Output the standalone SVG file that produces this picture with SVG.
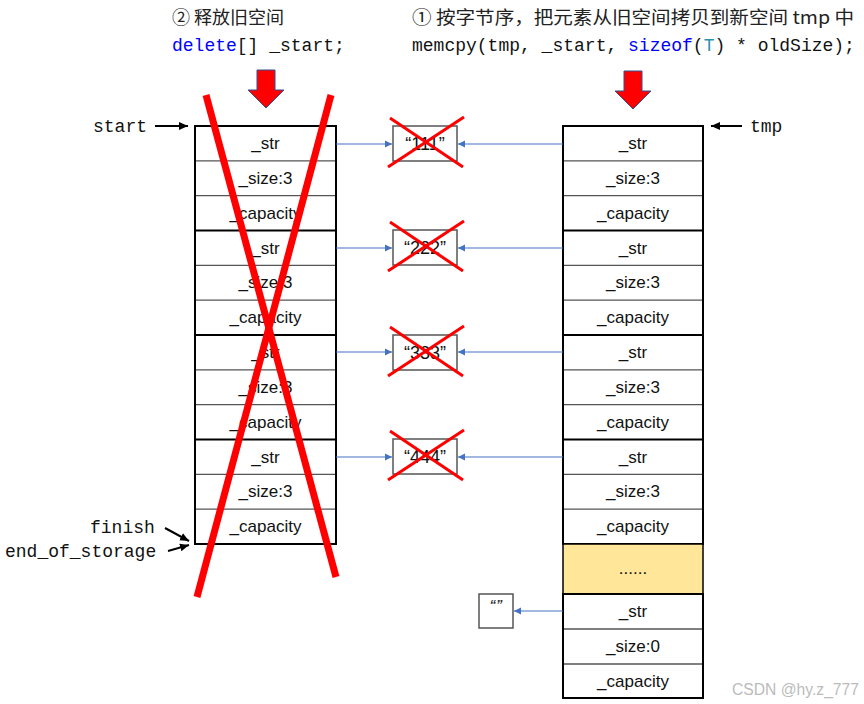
<svg xmlns="http://www.w3.org/2000/svg" width="864" height="704" viewBox="0 0 864 704">
<style>
.cell{fill:#fff;stroke:#555;stroke-width:1.3}
.frame{fill:none;stroke:#000;stroke-width:2}
.sep{stroke:#000;stroke-width:2}
.ct{font-family:"Liberation Sans",Arial,sans-serif;font-size:17px;fill:#111;text-anchor:middle}
.code{font-family:"Liberation Mono","DejaVu Sans Mono",monospace;font-size:18px;fill:#111}
.cn{font-family:"Noto Sans CJK SC","Noto Sans",sans-serif;font-size:18px;fill:#222}
.sbox{fill:#fff;stroke:#555;stroke-width:1.5}
.st{font-family:"Liberation Sans",Arial,sans-serif;font-size:18px;fill:#111;text-anchor:middle}
.blue{stroke:#4472C4;stroke-width:1.2;fill:none;marker-end:url(#ba)}
.ptr{stroke:#000;stroke-width:2;fill:none;marker-end:url(#ka)}
.rx{stroke:#FF0000;stroke-width:3}
.bigx{stroke:#FF0000;stroke-width:7;stroke-linecap:butt}
.blk{fill:#FF0000;stroke:#2F528F;stroke-width:1}
</style>
<defs>
<marker id="ba" markerWidth="8" markerHeight="8" refX="7" refY="4" orient="auto" markerUnits="userSpaceOnUse">
<path d="M0,0.5 L7,4 L0,7.5 Z" fill="#4472C4"/>
</marker>
<marker id="ka" markerWidth="10" markerHeight="10" refX="9" refY="5" orient="auto" markerUnits="userSpaceOnUse">
<path d="M0,1 L9,5 L0,9 Z" fill="#000"/>
</marker>
</defs>
<rect width="864" height="704" fill="#fff"/>

<g id="caption-left">
<text class="cn" x="172" y="24">② 释放旧空间</text>
<text class="code" x="172" y="51"><tspan fill="#0000FF">delete</tspan>[] _start;</text>
</g>
<g id="caption-right">
<text class="cn" x="412" y="24" textLength="442" lengthAdjust="spacingAndGlyphs">① 按字节序，把元素从旧空间拷贝到新空间 tmp 中</text>
<text class="code" x="412" y="51">memcpy(tmp, _start, <tspan fill="#0000FF">sizeof</tspan>(<tspan fill="#2B91AF">T</tspan>) * oldSize);</text>
</g>

<g id="block-arrows">
<polygon class="blk" points="257,70 275,70 275,90 284,90 266,108 248,90 257,90"/>
<polygon class="blk" points="624,71 642,71 642,91 651,91 633,109 615,91 624,91"/>
</g>

<g id="old-space">
<rect class="cell" x="195" y="126" width="141" height="418"/>
<g stroke="#555" stroke-width="1.3">
<line x1="195" y1="160.8" x2="336" y2="160.8"/><line x1="195" y1="195.7" x2="336" y2="195.7"/>
<line x1="195" y1="265.3" x2="336" y2="265.3"/><line x1="195" y1="300.2" x2="336" y2="300.2"/>
<line x1="195" y1="369.8" x2="336" y2="369.8"/><line x1="195" y1="404.7" x2="336" y2="404.7"/>
<line x1="195" y1="474.3" x2="336" y2="474.3"/><line x1="195" y1="509.2" x2="336" y2="509.2"/>
</g>
<line class="sep" x1="195" y1="230.5" x2="336" y2="230.5"/>
<line class="sep" x1="195" y1="335" x2="336" y2="335"/>
<line class="sep" x1="195" y1="439.5" x2="336" y2="439.5"/>
<rect class="frame" x="195" y="126" width="141" height="418"/>
<text class="ct" x="265.5" y="149">_str</text>
<text class="ct" x="265.5" y="184">_size:3</text>
<text class="ct" x="265.5" y="219">_capacity</text>
<text class="ct" x="265.5" y="254">_str</text>
<text class="ct" x="265.5" y="288">_size:3</text>
<text class="ct" x="265.5" y="323">_capacity</text>
<text class="ct" x="265.5" y="358">_str</text>
<text class="ct" x="265.5" y="393">_size:3</text>
<text class="ct" x="265.5" y="428">_capacity</text>
<text class="ct" x="265.5" y="463">_str</text>
<text class="ct" x="265.5" y="497">_size:3</text>
<text class="ct" x="265.5" y="532">_capacity</text>
</g>

<g id="new-space">
<rect class="cell" x="563" y="126" width="140" height="418"/>
<g stroke="#555" stroke-width="1.3">
<line x1="563" y1="160.8" x2="703" y2="160.8"/><line x1="563" y1="195.7" x2="703" y2="195.7"/>
<line x1="563" y1="265.3" x2="703" y2="265.3"/><line x1="563" y1="300.2" x2="703" y2="300.2"/>
<line x1="563" y1="369.8" x2="703" y2="369.8"/><line x1="563" y1="404.7" x2="703" y2="404.7"/>
<line x1="563" y1="474.3" x2="703" y2="474.3"/><line x1="563" y1="509.2" x2="703" y2="509.2"/>
</g>
<line class="sep" x1="563" y1="230.5" x2="703" y2="230.5"/>
<line class="sep" x1="563" y1="335" x2="703" y2="335"/>
<line class="sep" x1="563" y1="439.5" x2="703" y2="439.5"/>
<rect class="frame" x="563" y="126" width="140" height="418"/>
<text class="ct" x="633" y="149">_str</text>
<text class="ct" x="633" y="184">_size:3</text>
<text class="ct" x="633" y="219">_capacity</text>
<text class="ct" x="633" y="254">_str</text>
<text class="ct" x="633" y="288">_size:3</text>
<text class="ct" x="633" y="323">_capacity</text>
<text class="ct" x="633" y="358">_str</text>
<text class="ct" x="633" y="393">_size:3</text>
<text class="ct" x="633" y="428">_capacity</text>
<text class="ct" x="633" y="463">_str</text>
<text class="ct" x="633" y="497">_size:3</text>
<text class="ct" x="633" y="532">_capacity</text>
</g>

<g id="ellipsis-block">
<rect x="563" y="544" width="140" height="50" fill="#FFE699" stroke="#000" stroke-width="1.5"/>
<text class="ct" x="633" y="574">......</text>
</g>

<g id="new-element">
<rect class="cell" x="563" y="594" width="140" height="104"/>
<line x1="563" y1="629" x2="703" y2="629" stroke="#555" stroke-width="1.3"/>
<line x1="563" y1="664" x2="703" y2="664" stroke="#555" stroke-width="1.3"/>
<rect class="frame" x="563" y="594" width="140" height="104"/>
<text class="ct" x="633" y="617">_str</text>
<text class="ct" x="633" y="652">_size:0</text>
<text class="ct" x="633" y="687">_capacity</text>
</g>

<g id="str-111">
<rect class="sbox" x="393" y="126" width="64" height="35"/>
<text class="st" x="425" y="150">“111”</text>
</g>
<g id="str-222">
<rect class="sbox" x="393" y="230" width="64" height="35"/>
<text class="st" x="425" y="254">“222”</text>
</g>
<g id="str-333">
<rect class="sbox" x="393" y="335" width="64" height="35"/>
<text class="st" x="425" y="359">“333”</text>
</g>
<g id="str-444">
<rect class="sbox" x="393" y="439" width="64" height="35"/>
<text class="st" x="425" y="463">“444”</text>
</g>
<g id="str-empty">
<rect class="sbox" x="479" y="594" width="34" height="34"/>
<text x="496" y="609" font-family="Liberation Sans,Arial,sans-serif" font-style="italic" font-weight="bold" font-size="13" fill="#333" text-anchor="middle">“”</text>
</g>

<g id="labels">
<text class="code" x="93" y="132">start</text>
<text class="code" x="750" y="132">tmp</text>
<text class="code" x="90" y="533">finish</text>
<text class="code" x="5" y="557">end_of_storage</text>
<text x="732" y="695" font-family="Liberation Sans,Arial,sans-serif" font-size="16" fill="#bbb" textLength="127" lengthAdjust="spacingAndGlyphs">CSDN @hy.z_777</text>
</g>

<g id="connectors">
<line class="blue" x1="336" y1="144" x2="392" y2="144"/>
<line class="blue" x1="563" y1="144" x2="458" y2="144"/>
<line class="blue" x1="336" y1="248" x2="392" y2="248"/>
<line class="blue" x1="563" y1="248" x2="458" y2="248"/>
<line class="blue" x1="336" y1="352" x2="392" y2="352"/>
<line class="blue" x1="563" y1="352" x2="458" y2="352"/>
<line class="blue" x1="336" y1="457" x2="392" y2="457"/>
<line class="blue" x1="563" y1="457" x2="458" y2="457"/>
<line class="blue" x1="563" y1="611" x2="514" y2="611"/>
<line class="ptr" x1="155" y1="126" x2="188" y2="126"/>
<line class="ptr" x1="742" y1="126" x2="711" y2="126"/>
<line class="ptr" x1="165" y1="528" x2="189" y2="541"/>
<line class="ptr" x1="168" y1="551" x2="189" y2="545"/>
</g>

<g id="crosses">
<line class="rx" x1="390" y1="118" x2="463" y2="167"/>
<line class="rx" x1="464" y1="117" x2="388" y2="167"/>
<line class="rx" x1="390" y1="222" x2="463" y2="271"/>
<line class="rx" x1="464" y1="221" x2="388" y2="271"/>
<line class="rx" x1="390" y1="327" x2="463" y2="376"/>
<line class="rx" x1="464" y1="326" x2="388" y2="376"/>
<line class="rx" x1="390" y1="431" x2="463" y2="480"/>
<line class="rx" x1="464" y1="430" x2="388" y2="480"/>
<line class="bigx" x1="206" y1="95" x2="336" y2="577"/>
<line class="bigx" x1="331" y1="95" x2="197" y2="597"/>
</g>
</svg>
